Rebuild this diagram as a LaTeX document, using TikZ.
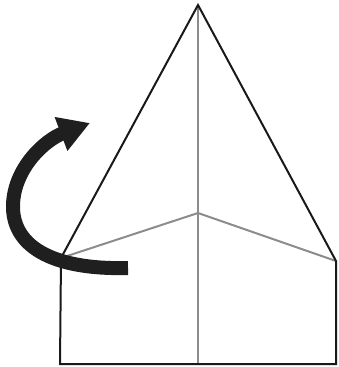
\documentclass[tikz,border=0pt]{standalone}
\usetikzlibrary{arrows.meta}

\begin{document}
\begin{tikzpicture}[x=1pt, y=-1pt,
      edge/.style={draw=black!90, line width=2pt, line join=miter},
      fold/.style={draw=black!45, line width=2pt},
      turn/.style={draw=black!88, line width=14pt, -{Triangle[length=31pt, width=34pt]}}]
    \useasboundingbox (0,0) rectangle (339,367);
    % corners of the sheet
    \coordinate (apex) at (198,5);
    \coordinate (lc) at (61,258);
    \coordinate (rc) at (336,261);
    \coordinate (bl) at (60,364);
    \coordinate (br) at (336,364);
    \coordinate (mid) at (198,213);
    \coordinate (bm) at (198,364);
    \coordinate (tail) at (128,268);
    \coordinate (tip) at (90,123);
    % fold lines
    \draw[fold] (apex) -- (bm);
    \draw[fold] (lc) -- (mid) -- (rc);
    % outline
    \draw[edge] (bl) -- (lc) -- (apex) -- (rc) -- (br) -- cycle;
    % turn-over arrow
    \draw[turn] (tail) .. controls (50,270) and (12,245) .. (13,205)
      .. controls (14,168) and (45,140) .. (tip);
  \end{tikzpicture}
\end{document}
